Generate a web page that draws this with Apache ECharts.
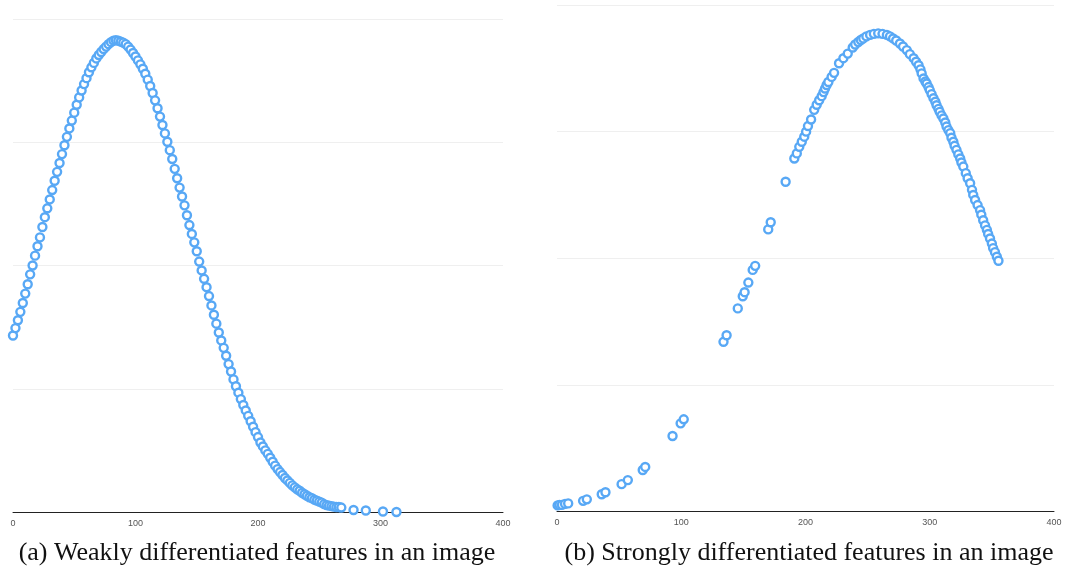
<!DOCTYPE html>
<html>
<head>
<meta charset="utf-8">
<script src="https://cdn.jsdelivr.net/npm/echarts@6/dist/echarts.min.js"></script>
<style>
  html, body { margin: 0; padding: 0; background: #ffffff; }
  #chart { width: 1070px; height: 572px; }
</style>
</head>
<body>
<div id="chart"></div>
<script>
// Panel (a): weakly differentiated features
const leftX = [
  0, 2, 4, 6, 8, 10, 12, 14, 16, 18, 20, 22, 24, 26, 28, 30, 32, 34, 36, 38,
  40, 42, 44, 46, 48, 50, 52, 54, 56, 58, 60, 62, 64, 66, 68, 70, 72, 74, 76, 78,
  80, 82, 84, 86, 88, 90, 92, 94, 96, 98, 100, 102, 104, 106, 108, 110, 112, 114, 116, 118,
  120, 122, 124, 126, 128, 130, 132, 134, 136, 138, 140, 142, 144, 146, 148, 150, 152, 154, 156, 158,
  160, 162, 164, 166, 168, 170, 172, 174, 176, 178, 180, 182, 184, 186, 188, 190, 192, 194, 196, 198,
  200, 202, 204, 206, 208, 210, 212, 214, 216, 218, 220, 222, 224, 226, 228, 230, 232, 234, 236, 238,
  240, 242, 244, 246, 248, 250, 252, 254, 256, 258, 260, 262, 264, 266, 268, 278, 288, 302, 313
];
const leftY = [
  35.8, 37.3, 38.9, 40.6, 42.4, 44.3, 46.2, 48.2, 50.0, 52.0, 53.9, 55.7, 57.8, 59.8, 61.6, 63.4, 65.3, 67.2, 69.0, 70.8,
  72.6, 74.4, 76.1, 77.8, 79.4, 81.0, 82.6, 84.1, 85.5, 86.8, 88.0, 89.2, 90.2, 91.1, 92.0, 92.7, 93.3, 93.9, 94.4, 94.9,
  95.3, 95.6, 95.7, 95.6, 95.4, 95.2, 94.9, 94.4, 93.8, 93.1, 92.4, 91.6, 90.8, 89.9, 88.9, 87.7, 86.4, 85.0, 83.5, 81.9,
  80.2, 78.5, 76.8, 75.1, 73.4, 71.6, 69.6, 67.7, 65.8, 64.0, 62.2, 60.2, 58.2, 56.4, 54.7, 52.9, 50.8, 49.0, 47.3, 45.6,
  43.8, 41.9, 40.0, 38.2, 36.4, 34.8, 33.3, 31.7, 30.0, 28.5, 26.9, 25.5, 24.2, 22.9, 21.7, 20.6, 19.5, 18.4, 17.3, 16.2,
  15.2, 14.1, 13.3, 12.5, 11.8, 11.0, 10.2, 9.4, 8.7, 8.1, 7.5, 6.9, 6.4, 5.9, 5.4, 5.0, 4.6, 4.3, 3.9, 3.6,
  3.3, 3.0, 2.8, 2.5, 2.3, 2.1, 1.9, 1.6, 1.4, 1.3, 1.2, 1.1, 1.0, 1.0, 0.9, 0.4, 0.3, 0.1, 0.0
];

// Panel (b): strongly differentiated features
const rightX = [
  0.5, 2, 4, 6.5, 9, 21, 24, 36, 39, 52, 57, 69, 71, 93, 99.5, 102, 134, 136.5, 145.5, 149.5,
  151, 154, 157.5, 159.5, 170, 172, 184, 191, 193, 195, 197, 199, 200.5, 202, 204.5, 207, 209, 211, 213, 214.5,
  215.7, 217, 218.4, 221, 223, 227, 230.5, 234, 238, 240, 242.5, 244.5, 246.5, 249, 252, 255, 258.5, 262, 265.5, 268,
  270.5, 273, 276, 278.5, 281.5, 284, 287, 289, 291, 292.5, 293.5, 295, 296.5, 297.5, 299, 300, 301.5, 303, 304.5, 305.5,
  307, 308, 309.5, 311, 312.5, 313.5, 315, 316.5, 317.5, 319, 320, 321.5, 323, 324.5, 325.5, 327, 329, 330.5, 332.5, 334,
  335, 336.5, 338.5, 340.5, 341.5, 343, 344.5, 346, 347, 348.5, 350, 351, 352.5, 354, 355.3
];
const rightY = [
  1.2, 1.3, 1.3, 1.5, 1.6, 2.1, 2.4, 3.4, 3.8, 5.4, 6.2, 8.2, 8.8, 14.9, 17.4, 18.2, 33.5, 34.8, 40.1, 42.5,
  43.3, 45.2, 47.7, 48.5, 55.7, 57.1, 65.1, 69.7, 70.7, 72.0, 73.0, 74.0, 75.0, 76.1, 77.4, 79.3, 80.3, 81.2, 82.0, 82.8,
  83.5, 84.2, 84.8, 85.8, 86.6, 88.5, 89.5, 90.4, 91.6, 92.2, 92.7, 93.1, 93.4, 93.8, 94.1, 94.3, 94.4, 94.3, 94.1, 93.8,
  93.4, 93.0, 92.4, 91.8, 91.1, 90.3, 89.5, 88.8, 88.1, 87.3, 86.5, 85.5, 84.9, 84.5, 83.8, 83.2, 82.4, 81.6, 80.9, 80.2,
  79.5, 78.9, 78.2, 77.6, 76.8, 76.0, 75.3, 74.7, 73.8, 73.0, 72.2, 71.4, 70.5, 69.7, 68.9, 68.1, 66.8, 65.8, 64.8, 63.5,
  62.5, 61.5, 60.5, 59.5, 58.6, 57.5, 56.5, 55.6, 54.8, 53.9, 52.9, 52.0, 51.2, 50.3, 49.5
];

const xTicks = [0, 100, 200, 300, 400];
const captions = [
  '(a) Weakly differentiated features in an image',
  '(b) Strongly differentiated features in an image'
];

const markerBlue = '#58a8f5';

function zip(xs, ys) {
  return xs.map((x, i) => [x, ys[i]]);
}

function xAxisFor(gridIndex) {
  return {
    type: 'value',
    gridIndex: gridIndex,
    min: xTicks[0],
    max: xTicks[xTicks.length - 1],
    interval: xTicks[1] - xTicks[0],
    axisLine: { show: true, onZero: false, lineStyle: { color: '#222', width: 1 } },
    axisTick: { show: false },
    splitLine: { show: false },
    axisLabel: {
      color: '#555',
      fontSize: 9,
      fontFamily: 'Liberation Sans, Arial, sans-serif',
      margin: 7
    }
  };
}

function yAxisFor(gridIndex) {
  return {
    type: 'value',
    gridIndex: gridIndex,
    min: 0,
    max: 100,
    interval: 25,
    axisLine: { show: false },
    axisTick: { show: false },
    axisLabel: { show: false },
    splitLine: { show: true, lineStyle: { color: '#efefef', width: 1 } }
  };
}

function scatterFor(index, data) {
  return {
    type: 'scatter',
    xAxisIndex: index,
    yAxisIndex: index,
    data: data,
    symbol: 'circle',
    symbolSize: 8,
    clip: false,
    silent: true,
    itemStyle: {
      color: '#ffffff',
      borderColor: markerBlue,
      borderWidth: 2.4,
      opacity: 1
    }
  };
}

const chart = echarts.init(document.getElementById('chart'), null, { renderer: 'canvas' });

chart.setOption({
  animation: false,
  backgroundColor: '#ffffff',
  grid: [
    { left: 13, top: 19, width: 490, height: 493 },
    { left: 557, top: 5, width: 497, height: 506.5 }
  ],
  xAxis: [xAxisFor(0), xAxisFor(1)],
  yAxis: [yAxisFor(0), yAxisFor(1)],
  series: [
    scatterFor(0, zip(leftX, leftY)),
    scatterFor(1, zip(rightX, rightY))
  ],
  graphic: [
    {
      type: 'text',
      x: 257, y: 553,
      style: {
        text: captions[0],
        align: 'center',
        verticalAlign: 'middle',
        fill: '#111',
        font: '26px "Liberation Serif", "Times New Roman", serif'
      }
    },
    {
      type: 'text',
      x: 809, y: 553,
      style: {
        text: captions[1],
        align: 'center',
        verticalAlign: 'middle',
        fill: '#111',
        font: '26px "Liberation Serif", "Times New Roman", serif'
      }
    }
  ]
});
</script>
</body>
</html>
